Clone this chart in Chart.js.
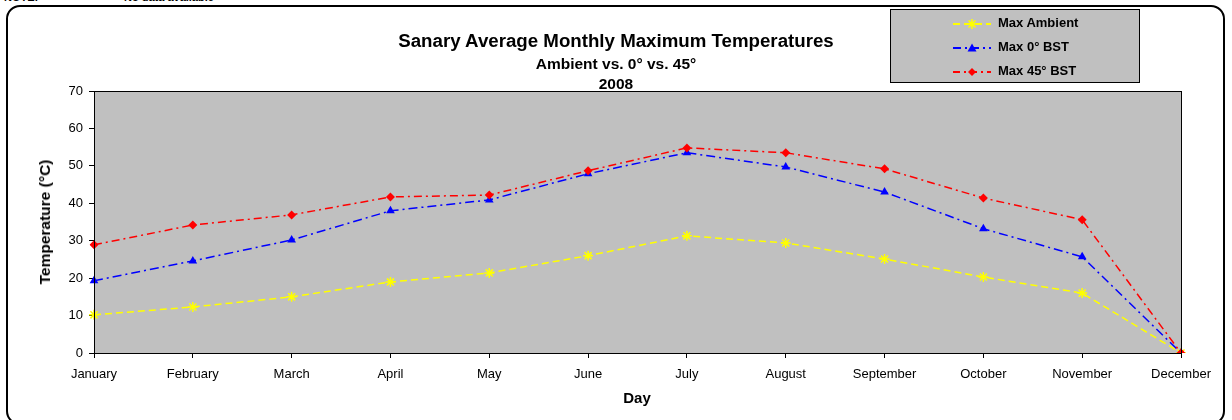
<!DOCTYPE html>
<html>
<head>
<meta charset="utf-8">
<script src="https://cdn.jsdelivr.net/npm/chart.js@4.4.0/dist/chart.umd.min.js"></script>
<style>
  html, body { margin:0; padding:0; background:#fff; }
  body { width:1232px; height:420px; position:relative; overflow:hidden; font-family:"Liberation Sans", Arial, sans-serif; }
  #wrap { position:absolute; left:0; top:0; width:1232px; height:420px; }
  #frame { position:absolute; left:6px; top:5px; width:1219px; height:420px; border:2px solid #000; border-radius:14px; box-sizing:border-box; }
  .txt { position:absolute; font-weight:bold; color:#000; white-space:nowrap; }
  #legend { position:absolute; left:890px; top:9px; width:250px; height:74px; background:#c0c0c0; border:1px solid #000; box-sizing:border-box; }
  .lrow { position:absolute; left:62px; width:180px; height:16px; font-size:13px; font-weight:bold; white-space:nowrap; }
  .lrow svg { position:absolute; left:0; top:1px; }
  .lrow span { position:absolute; left:45px; top:-1px; white-space:nowrap; }
</style>
</head>
<body>
<div id="frame"></div>
<div class="txt" style="left:4px;top:-9px;font-size:11px;">NOTE:</div>
<div class="txt" style="left:124px;top:-9px;font-size:11px;">No data available</div>
<div id="wrap"><canvas id="c" width="1232" height="420"></canvas></div>
<div class="txt" style="left:0;width:1232px;text-align:center;top:30px;font-size:18.7px;">Sanary Average Monthly Maximum Temperatures</div>
<div class="txt" style="left:0;width:1232px;text-align:center;top:55px;font-size:15.5px;">Ambient vs. 0° vs. 45°</div>
<div class="txt" style="left:0;width:1232px;text-align:center;top:75px;font-size:15.5px;">2008</div>
<div class="txt" style="left:45px;top:222px;font-size:15.5px;transform:translate(-50%,-50%) rotate(-90deg);">Temperature (°C)</div>
<div class="txt" style="left:637px;top:389px;font-size:15px;transform:translateX(-50%);">Day</div>
<div id="legend">
  <div class="lrow" style="top:6px;">
    <svg width="40" height="14"><line x1="0" y1="7" x2="38" y2="7" stroke="#ffff00" stroke-width="2" stroke-dasharray="7,4"/><path d="M19 2 L19 12 M14 7 L24 7 M15.5 3.5 L22.5 10.5 M22.5 3.5 L15.5 10.5" stroke="#ffff00" stroke-width="1.5"/></svg>
    <span>Max Ambient</span>
  </div>
  <div class="lrow" style="top:30px;">
    <svg width="40" height="14"><line x1="0" y1="7" x2="38" y2="7" stroke="#0000ff" stroke-width="2" stroke-dasharray="8,4,2,4"/><path d="M19 2.5 L23.5 10.5 L14.5 10.5 Z" fill="#0000ff"/></svg>
    <span>Max 0° BST</span>
  </div>
  <div class="lrow" style="top:54px;">
    <svg width="40" height="14"><line x1="0" y1="7" x2="38" y2="7" stroke="#ff0000" stroke-width="2" stroke-dasharray="7,4,2,4"/><path d="M19 3 L23 7 L19 11 L15 7 Z" fill="#ff0000"/></svg>
    <span>Max 45° BST</span>
  </div>
</div>
<script>
const months = ["January","February","March","April","May","June","July","August","September","October","November","December"];
const maxAmbient = [10.2, 12.3, 15.0, 19.0, 21.4, 26.0, 31.3, 29.4, 25.1, 20.3, 16.0, 0];
const max0BST    = [19.3, 24.6, 30.2, 38.0, 40.9, 47.9, 53.5, 49.7, 43.0, 33.2, 25.7, 0];
const max45BST   = [28.9, 34.2, 36.9, 41.7, 42.2, 48.7, 54.8, 53.5, 49.2, 41.4, 35.6, 0];
const yTicks = [0,10,20,30,40,50,60,70];

const plotBg = {
  id:'plotBg',
  beforeDraw(chart){
    const {ctx, chartArea:a} = chart;
    ctx.save();
    ctx.fillStyle = '#c0c0c0';
    ctx.fillRect(a.left, a.top, a.right-a.left, a.bottom-a.top);
    ctx.restore();
  },
  afterDraw(chart){
    const {ctx, chartArea:a} = chart;
    ctx.save();
    ctx.strokeStyle = '#000';
    ctx.lineWidth = 1;
    ctx.strokeRect(Math.round(a.left)+0.5, Math.round(a.top)+0.5, Math.round(a.right-a.left), Math.round(a.bottom-a.top));
    ctx.restore();
  }
};

new Chart(document.getElementById('c'), {
  type:'line',
  data:{
    labels: months,
    datasets:[
      { label:'Max Ambient', order:3, data:maxAmbient, borderColor:'#ffff00', backgroundColor:'#ffff00', borderWidth:1.5, borderDash:[7,4], pointStyle:'star', pointRadius:5, pointBorderWidth:1.5, pointBorderColor:'#ffff00', tension:0 },
      { label:'Max 0° BST', order:2, data:max0BST, borderColor:'#0000ff', backgroundColor:'#0000ff', borderWidth:1.5, borderDash:[9,4,2,4], pointStyle:'triangle', pointRadius:5, pointBorderWidth:0, tension:0 },
      { label:'Max 45° BST', order:1, data:max45BST, borderColor:'#ff0000', backgroundColor:'#ff0000', borderWidth:1.5, borderDash:[8,4,2,4], pointStyle:'rectRot', pointRadius:4.5, pointBorderWidth:0, tension:0 }
    ]
  },
  options:{
    responsive:false,
    animation:false,
    devicePixelRatio:1,
    layout:{ padding:{ top:91, right:51, left:0, bottom:0 } },
    plugins:{ legend:{display:false}, title:{display:false}, tooltip:{enabled:false} },
    scales:{
      x:{
        offset:false,
        afterFit(s){ s.height = 67; },
        grid:{ drawOnChartArea:false, drawTicks:true, tickLength:5, color:'#000' },
        border:{ display:true, color:'#000', width:1 },
        ticks:{ color:'#000', font:{ family:'"Liberation Sans", Arial, sans-serif', size:13 }, maxRotation:0, autoSkip:false, padding:9 }
      },
      y:{
        min:0, max:70,
        afterFit(s){ s.width = 94; },
        afterBuildTicks(s){ s.ticks = yTicks.map(v=>({value:v})); },
        grid:{ drawOnChartArea:false, drawTicks:true, tickLength:5, color:'#000' },
        border:{ display:true, color:'#000', width:1 },
        ticks:{ color:'#000', font:{ family:'"Liberation Sans", Arial, sans-serif', size:13 }, padding:6 }
      }
    }
  },
  plugins:[plotBg]
});
</script>
</body>
</html>
